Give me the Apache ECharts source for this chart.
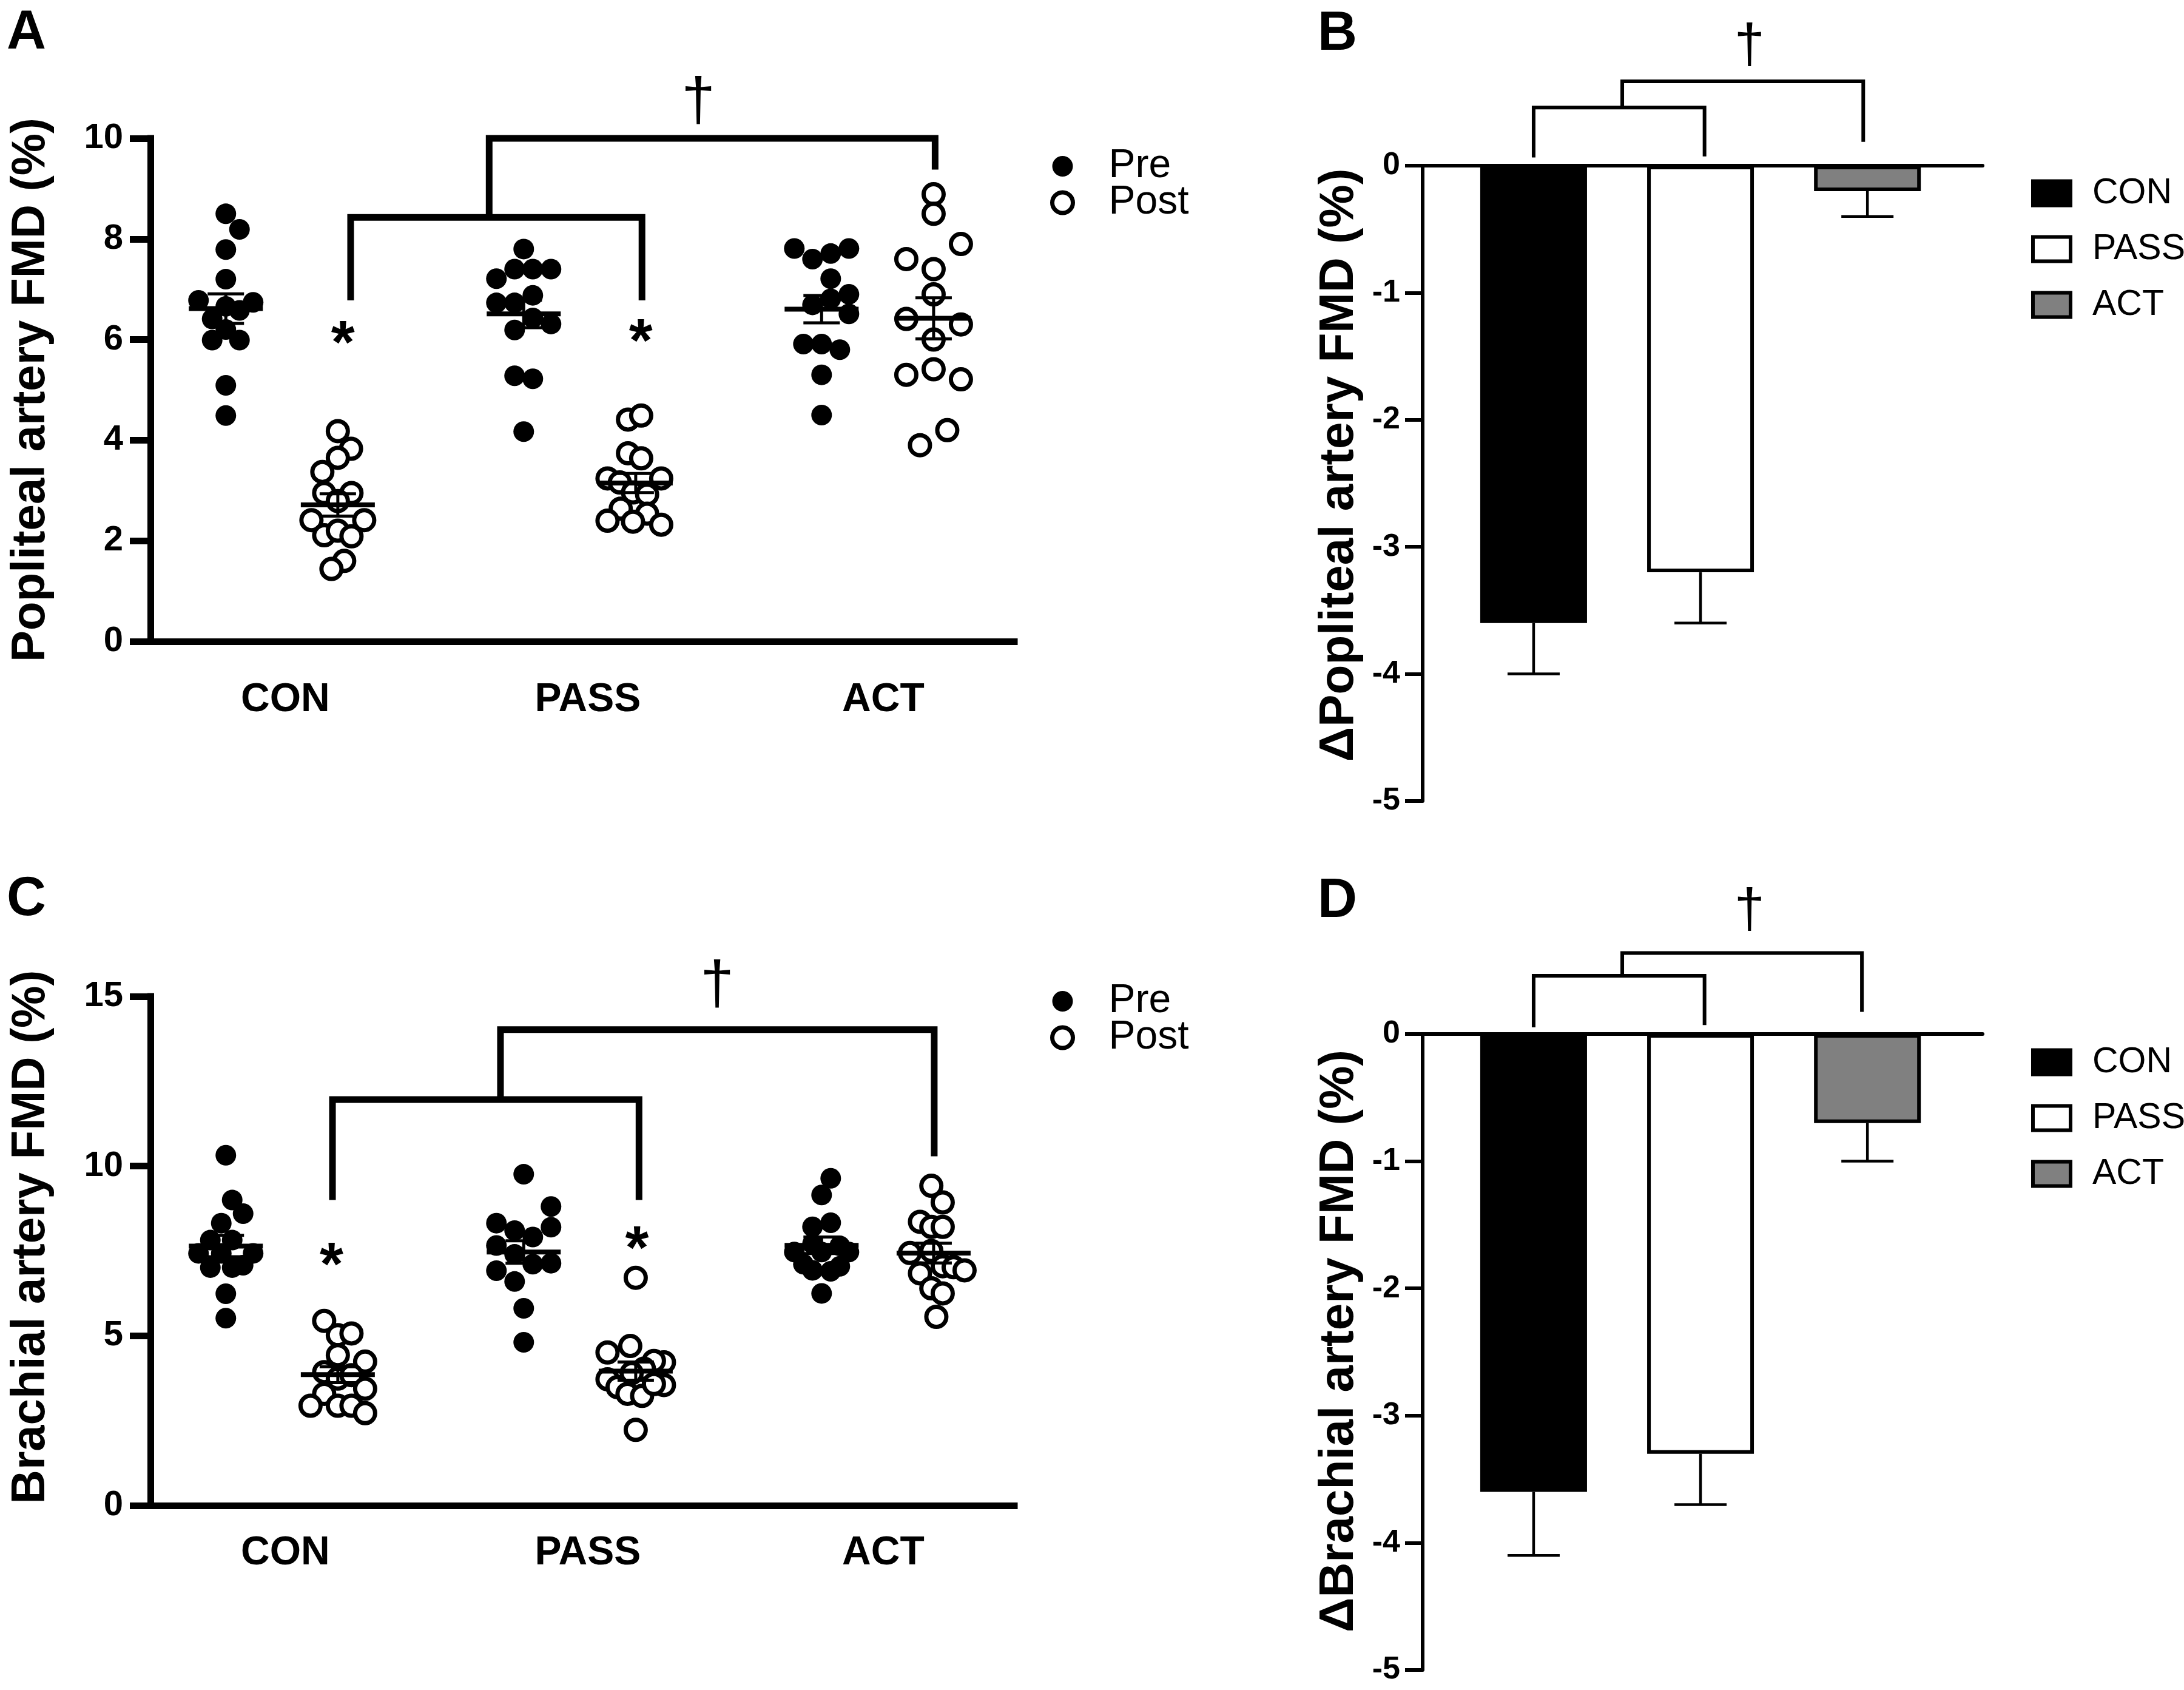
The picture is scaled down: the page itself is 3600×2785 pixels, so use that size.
<!DOCTYPE html>
<html><head><meta charset="utf-8">
<script src="https://cdn.jsdelivr.net/npm/echarts@6/dist/echarts.min.js"></script>
<style>html,body{margin:0;padding:0;background:#fff}#c{width:3600px;height:2785px}</style>
</head><body><div id="c"></div>
<script>
// ---------- DATA ----------
const groups = ['CON', 'PASS', 'ACT'];
const seriesNames = ['Pre', 'Post'];
const popTicks = [0, 2, 4, 6, 8, 10];
const braTicks = [0, 5, 10, 15];
const deltaTicks = [0, -1, -2, -3, -4, -5];

// Panel A: popliteal artery FMD (%) per subject; *Col = swarm column (dot half-steps)
const popCONpre   = [8.50, 8.19, 7.79, 7.20, 6.78, 6.74, 6.66, 6.58, 6.41, 6.20, 5.99, 5.99, 5.09, 4.49];
const popCONpreCol  = [0, 1.5, 0, 0, -3, 3, 0, 1.5, -1.5, 0, -1.5, 1.5, 0, 0];
const popCONpost  = [4.18, 3.83, 3.65, 3.37, 2.95, 2.95, 2.79, 2.41, 2.41, 2.11, 2.20, 2.09, 1.60, 1.44];
const popCONpostCol = [0, 1.45, 0, -1.7, -1.5, 1.5, 0, -2.9, 2.9, -1.5, 0, 1.5, 0.7, -0.7];
const popPASSpre  = [7.80, 7.40, 7.40, 7.40, 7.21, 6.88, 6.73, 6.73, 6.43, 6.31, 6.19, 5.28, 5.22, 4.17];
const popPASSpreCol = [0, -1, 1, 3, -3, 1, -3, -1, 1, 3, -1, -1, 1, 0];
const popPASSpost = [4.41, 4.49, 3.74, 3.64, 3.24, 3.16, 3.24, 2.96, 2.92, 2.64, 2.54, 2.40, 2.38, 2.32];
const popPASSpostCol = [-0.85, 0.6, -0.85, 0.6, -3.1, -1.75, 2.8, -0.3, 1.25, -1.65, 1.25, -3.1, -0.3, 2.8];
const popACTpre   = [7.81, 7.60, 7.71, 7.81, 7.21, 6.90, 6.81, 6.69, 6.51, 5.91, 5.91, 5.80, 5.30, 4.50];
const popACTpreCol  = [-3, -1, 1, 3, 1, 3, 1, -1, 3, -2, 0, 2, 0, 0];
const popACTpost  = [8.89, 8.50, 7.90, 7.60, 7.40, 6.90, 6.41, 6.30, 6.00, 5.30, 5.41, 5.21, 4.20, 3.90];
const popACTpostCol = [0, 0, 3, -3, 0, 0, -3, 3, 0, -3, 0, 3, 1.5, -1.5];

// Panel C: brachial artery FMD (%)
const braCONpre   = [10.32, 9.00, 8.60, 8.32, 7.82, 7.82, 7.43, 7.43, 7.43, 7.08, 7.01, 7.01, 6.24, 5.52];
const braCONpreCol  = [0, 0.7, 1.9, -0.5, -1.7, 0.7, -3, 3, -0.5, 1.9, -1.7, 0.7, 0, 0];
const braCONpost  = [5.44, 5.02, 5.07, 4.43, 4.24, 3.93, 3.74, 3.84, 3.44, 3.29, 2.94, 2.94, 2.94, 2.72];
const braCONpostCol = [-1.5, 0, 1.5, 0, 3, -1.5, 0, 1.5, 3, -1.5, -3, 0, 1.5, 3];
const braPASSpre  = [9.76, 8.81, 8.32, 8.20, 8.10, 7.91, 7.66, 7.40, 7.11, 7.14, 6.92, 6.60, 5.81, 4.81];
const braPASSpreCol = [0, 3, -3, 3, -1, 1, -3, -1, 1, 3, -3, -1, 0, 0];
const braPASSpost = [6.71, 4.70, 4.51, 4.22, 4.26, 4.03, 3.72, 3.55, 3.90, 3.49, 3.29, 3.23, 3.58, 2.23];
const braPASSpostCol = [0, -0.6, -3.1, 3.1, 2, 0.9, -3.1, 3.1, -0.45, -2, -0.9, 0.7, 2, 0];
const braACTpre   = [9.64, 9.15, 8.21, 8.33, 7.71, 7.65, 7.47, 7.47, 7.47, 7.11, 7.05, 6.93, 6.90, 6.25];
const braACTpreCol  = [1, 0, -1, 1, -1, 2, -3, 3, 0, -2, 2, -1, 1, 0];
const braACTpost  = [9.42, 8.93, 8.36, 8.21, 8.21, 7.44, 7.50, 7.05, 7.02, 6.93, 6.84, 6.40, 6.25, 5.56];
const braACTpostCol = [-0.25, 1, -1.5, -0.25, 1, -2.6, -0.25, 1, 2.2, 3.4, -1.5, -0.25, 1, 0.3];

// Panels B & D: change in FMD (mean, SEM)
const popDelta    = [-3.6, -3.2, -0.2];
const popDeltaSem = [0.4, 0.4, 0.2];
const braDelta    = [-3.6, -3.3, -0.7];
const braDeltaSem = [0.5, 0.4, 0.3];

// Significance annotations (data coordinates)
// brackets: [xLeft, xRight, yTop, yLeftEnd, yRightEnd]
const popBrackets = [[0.231, 1.209, 8.43, 6.78, 6.78], [0.696, 2.193, 10.0, 8.43, 9.38]];
const popStars    = [[0.205, 6.16], [1.205, 6.2]];
const popDagger   = [[1.398, 10.7]];
const braBrackets = [[0.170, 1.199, 11.96, 9.0, 9.0], [0.734, 2.190, 14.02, 11.96, 10.29]];
const braStars    = [[0.167, 7.43], [1.192, 7.91]];
const braDaggerP  = [[1.461, 15.28]];
const dPopBrackets = [[0.0, 1.024, 0.457, 0.064, 0.073], [0.531, 1.975, 0.664, 0.457, 0.188]];
const dPopDagger   = [[1.293, 0.93]];
const dBraBrackets = [[0.0, 1.024, 0.458, 0.052, 0.07], [0.531, 1.967, 0.637, 0.458, 0.174]];
const dBraDagger   = [[1.293, 0.96]];

// ---------- LAYOUT / STYLE ----------
const FONT = '"Liberation Sans", Arial, Helvetica, sans-serif';
const JIT = 15 / 491;        // one swarm step in group units
const SIDE = 0.188;          // Pre/Post offset from group centre
const barColors = ['#000000', '#ffffff', '#808080'];

function swarm(vals, cols, gi, off) { return vals.map((v, i) => [gi + off + cols[i] * JIT, v]); }
function mean(a) { return a.reduce((s, v) => s + v, 0) / a.length; }
function sem(a) { const m = mean(a); const sd = Math.sqrt(a.reduce((s, v) => s + (v - m) * (v - m), 0) / (a.length - 1)); return sd / Math.sqrt(a.length); }

const popPre = [popCONpre, popPASSpre, popACTpre], popPreCol = [popCONpreCol, popPASSpreCol, popACTpreCol];
const popPost = [popCONpost, popPASSpost, popACTpost], popPostCol = [popCONpostCol, popPASSpostCol, popACTpostCol];
const braPre = [braCONpre, braPASSpre, braACTpre], braPreCol = [braCONpreCol, braPASSpreCol, braACTpreCol];
const braPost = [braCONpost, braPASSpost, braACTpost], braPostCol = [braCONpostCol, braPASSpostCol, braACTpostCol];

function buildSwarm(sets, cols, off) { let out = []; sets.forEach((s, g) => { out = out.concat(swarm(s, cols[g], g, off)); }); return out; }
function buildStats(pre, post) {
  const out = [];
  for (let g = 0; g < 3; g++) {
    out.push([g - SIDE, mean(pre[g]), sem(pre[g])]);
    out.push([g + SIDE, mean(post[g]), sem(post[g])]);
  }
  return out;
}

function meanSemItem(params, api) {
  const x = api.value(0), m = api.value(1), s = api.value(2);
  const c = api.coord([x, m]), t = api.coord([x, m + s]), b = api.coord([x, m - s]);
  const st = { stroke: '#000', lineWidth: 5 };
  return { type: 'group', children: [
    { type: 'line', shape: { x1: c[0], y1: t[1], x2: c[0], y2: b[1] }, style: st },
    { type: 'line', shape: { x1: c[0] - 30, y1: t[1], x2: c[0] + 30, y2: t[1] }, style: st },
    { type: 'line', shape: { x1: c[0] - 30, y1: b[1], x2: c[0] + 30, y2: b[1] }, style: st },
    { type: 'line', shape: { x1: c[0] - 61, y1: c[1], x2: c[0] + 61, y2: c[1] }, style: { stroke: '#000', lineWidth: 8 } }
  ] };
}
function bracketItem(lw) {
  return function (params, api) {
    const xl = api.value(0), xr = api.value(1), yt = api.value(2), yl = api.value(3), yr = api.value(4);
    const pts = [api.coord([xl, yl]), api.coord([xl, yt]), api.coord([xr, yt]), api.coord([xr, yr])];
    return { type: 'polyline', shape: { points: pts }, style: { stroke: '#000', lineWidth: lw, fill: null, lineJoin: 'miter' } };
  };
}
function glyphItem(ch, size, weight, dy) {
  return function (params, api) {
    const p = api.coord([api.value(0), api.value(1)]);
    return { type: 'text', x: p[0], y: p[1] + dy, style: { text: ch, fill: '#000', font: weight + ' ' + size + 'px ' + FONT, align: 'center', verticalAlign: 'middle' } };
  };
}
function errItem(params, api) {
  const x = api.value(0), v = api.value(1), s = api.value(2);
  const a = api.coord([x, v]), b = api.coord([x, v - s]);
  const st = { stroke: '#000', lineWidth: 4.5 };
  return { type: 'group', children: [
    { type: 'line', shape: { x1: a[0], y1: a[1], x2: b[0], y2: b[1] }, style: st },
    { type: 'line', shape: { x1: b[0] - 43, y1: b[1], x2: b[0] + 43, y2: b[1] }, style: st }
  ] };
}

const chart = echarts.init(document.getElementById('c'), null, { renderer: 'canvas' });

function swarmXAxis(gi, margin) {
  return { gridIndex: gi, type: 'value', min: -0.441, max: 2.459,
    axisLine: { onZero: false, lineStyle: { color: '#000', width: 11, cap: 'square' } },
    axisTick: { show: false }, splitLine: { show: false },
    axisLabel: { customValues: [0.012, 1.027, 2.019], formatter: v => groups[Math.round(v)], color: '#000', fontSize: 66, fontWeight: 'bold', fontFamily: FONT, margin: margin } };
}
function swarmYAxis(gi, max, interval, name, pad) {
  return { gridIndex: gi, type: 'value', min: 0, max: max, interval: interval,
    axisLine: { show: true, onZero: false, lineStyle: { color: '#000', width: 11, cap: 'square' } },
    axisTick: { show: true, length: 34, lineStyle: { color: '#000', width: 11 } },
    splitLine: { show: false },
    axisLabel: { color: '#000', fontSize: 58, fontWeight: 'bold', fontFamily: FONT, margin: 45 },
    name: name, nameLocation: 'middle', nameGap: 158,
    nameTextStyle: { color: '#000', fontSize: 78, fontWeight: 'bold', fontFamily: FONT, padding: [0, 0, 0, pad] } };
}
function barXAxis(gi) {
  return { gridIndex: gi, type: 'value', min: -0.665, max: 2.69,
    axisLine: { onZero: true, lineStyle: { color: '#000', width: 6 } },
    axisTick: { show: false }, axisLabel: { show: false }, splitLine: { show: false } };
}
function barYAxis(gi, name, pad) {
  return { gridIndex: gi, type: 'value', min: -5, max: 0, interval: 1,
    axisLine: { show: true, onZero: false, lineStyle: { color: '#000', width: 6 } },
    axisTick: { show: true, length: 29, lineStyle: { color: '#000', width: 6 } },
    splitLine: { show: false },
    axisLabel: { color: '#000', fontSize: 52, fontWeight: 'bold', fontFamily: FONT, margin: 37 },
    name: name, nameLocation: 'middle', nameGap: 97,
    nameTextStyle: { color: '#000', fontSize: 80, fontWeight: 'bold', fontFamily: FONT, padding: [0, 0, 0, pad] } };
}

const series = [];
function addSwarmPanel(gi, pre, preCol, post, postCol, brackets, stars, dagger) {
  series.push({ type: 'scatter', name: 'Pre', xAxisIndex: gi, yAxisIndex: gi, symbol: 'circle', symbolSize: 34,
    itemStyle: { color: '#000', opacity: 1 }, data: buildSwarm(pre, preCol, -SIDE), z: 3, silent: true });
  series.push({ type: 'scatter', name: 'Post', xAxisIndex: gi, yAxisIndex: gi, symbol: 'circle', symbolSize: 33,
    itemStyle: { color: '#fff', borderColor: '#000', borderWidth: 7, opacity: 1 }, data: buildSwarm(post, postCol, SIDE), z: 3, silent: true });
  series.push({ type: 'custom', xAxisIndex: gi, yAxisIndex: gi, renderItem: meanSemItem, data: buildStats(pre, post), z: 5, silent: true, clip: false });
  series.push({ type: 'custom', xAxisIndex: gi, yAxisIndex: gi, renderItem: bracketItem(11), data: brackets, z: 5, silent: true, clip: false });
  series.push({ type: 'custom', xAxisIndex: gi, yAxisIndex: gi, renderItem: glyphItem('*', 100, 'bold', 24), data: stars, z: 5, silent: true, clip: false });
  series.push({ type: 'custom', xAxisIndex: gi, yAxisIndex: gi, renderItem: glyphItem('\u2020', 100, 'normal', 0), data: dagger, z: 5, silent: true, clip: false });
}
function addBarPanel(gi, vals, sems, brackets, dagger) {
  groups.forEach((g, i) => {
    series.push({ type: 'bar', name: g, xAxisIndex: gi, yAxisIndex: gi, barWidth: 176, barGap: '-100%',
      itemStyle: { color: barColors[i], borderColor: '#000', borderWidth: 6 }, data: [[i, vals[i]]], z: 3, silent: true });
  });
  series.push({ type: 'custom', xAxisIndex: gi, yAxisIndex: gi, renderItem: errItem,
    data: vals.map((v, i) => [i, v, sems[i]]), z: 2, silent: true, clip: false });
  series.push({ type: 'custom', xAxisIndex: gi, yAxisIndex: gi, renderItem: bracketItem(6), data: brackets, z: 5, silent: true, clip: false });
  series.push({ type: 'custom', xAxisIndex: gi, yAxisIndex: gi, renderItem: glyphItem('\u2020', 90, 'normal', 0), data: dagger, z: 5, silent: true, clip: false });
}
addSwarmPanel(0, popPre, popPreCol, popPost, popPostCol, popBrackets, popStars, popDagger);
addBarPanel(1, popDelta, popDeltaSem, dPopBrackets, dPopDagger);
addSwarmPanel(2, braPre, braPreCol, braPost, braPostCol, braBrackets, braStars, braDaggerP);
addBarPanel(3, braDelta, braDeltaSem, dBraBrackets, dBraDagger);

function swarmLegend(top) {
  return { orient: 'vertical', left: 1726, top: top, itemWidth: 34, itemHeight: 34, itemGap: -6, icon: 'circle', selectedMode: false,
    data: [{ name: 'Pre', itemStyle: { color: '#000', borderWidth: 0 } },
           { name: 'Post', itemStyle: { color: '#fff', borderColor: '#000', borderWidth: 7 } }],
    textStyle: { color: '#000', fontSize: 66, fontFamily: FONT, padding: [0, 0, 0, 54] } };
}
function barLegend(top) {
  return { orient: 'vertical', left: 3343, top: top, itemWidth: 62, itemHeight: 40, itemGap: 33, icon: 'rect', selectedMode: false,
    data: groups.map((g, i) => ({ name: g, itemStyle: { color: barColors[i], borderColor: '#000', borderWidth: 6 } })),
    textStyle: { color: '#000', fontSize: 59, fontFamily: FONT, lineHeight: 59, padding: [0, 0, 0, 31] } };
}

const option = {
  animation: false,
  backgroundColor: '#fff',
  textStyle: { fontFamily: FONT },
  grid: [
    { left: 248, top: 228, width: 1424, height: 829 },
    { left: 2345, top: 273, width: 923, height: 1047 },
    { left: 248, top: 1642, width: 1424, height: 839 },
    { left: 2345, top: 1704, width: 923, height: 1048 }
  ],
  xAxis: [swarmXAxis(0, 64), barXAxis(1), swarmXAxis(2, 46), barXAxis(3)],
  yAxis: [
    swarmYAxis(0, 10, 2, 'Popliteal artery FMD (%)', 0),
    barYAxis(1, '\u0394Popliteal artery FMD (%)', 60),
    swarmYAxis(2, 15, 5, 'Brachial artery FMD (%)', 46),
    barYAxis(3, '\u0394Brachial artery FMD (%)', 36)
  ],
  legend: [swarmLegend(236), barLegend(284), swarmLegend(1612), barLegend(1716)],
  graphic: [
    { type: 'text', left: 11, top: 10, style: { text: 'A', font: 'bold 90px ' + FONT, fill: '#000' } },
    { type: 'text', left: 2172, top: 12, style: { text: 'B', font: 'bold 90px ' + FONT, fill: '#000' } },
    { type: 'text', left: 11, top: 1438, style: { text: 'C', font: 'bold 90px ' + FONT, fill: '#000' } },
    { type: 'text', left: 2172, top: 1441, style: { text: 'D', font: 'bold 90px ' + FONT, fill: '#000' } }
  ],
  series: series
};
chart.setOption(option);
</script></body></html>
